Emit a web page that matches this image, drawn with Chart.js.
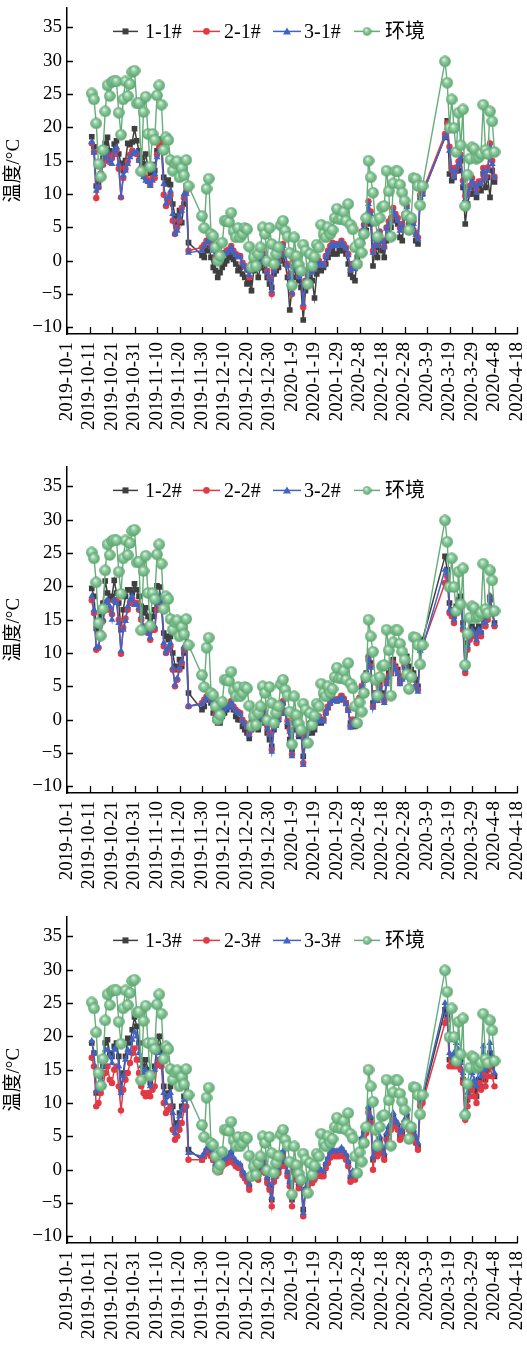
<!DOCTYPE html>
<html><head><meta charset="utf-8">
<script src="https://cdn.jsdelivr.net/npm/chart.js@4.4.1/dist/chart.umd.min.js"></script>
<style>
html,body{margin:0;padding:0;background:#fff;width:527px;height:1351px;overflow:hidden;position:relative}
canvas{position:absolute;left:0}
</style></head><body>
<canvas id="c1" width="527" height="450" style="top:0;width:527px;height:450px"></canvas>
<canvas id="c2" width="527" height="450" style="top:459px;width:527px;height:450px"></canvas>
<canvas id="c3" width="527" height="442" style="top:909px;width:527px;height:442px"></canvas>
<script>
// day offsets from 2019-10-1
const days = [11,12,13,14,15,16,17,18,19,20,
21,22,23,24,25,26,27,28,29,30,
31,32,33,34,35,36,37,38,39,40,
41,42,43,44,45,46,47,48,49,50,
51,52,53,54,55,56,57,58,59,60,
61,62,63,64,65,66,67,68,69,70,
71,72,73,74,75,76,77,78,79,80,
81,82,83,84,85,86,87,88,89,90,
91,92,93,94,95,96,97,98,99,100,
101,102,103,104,105,106,107,108,109,110,
111,112,113,114,115,116,117,118,119,120,
121,122,123,124,125,126,127,128,129,130,
131,132,133,134,135,136,137,138,139,140,
141,142,143,144,145,146,147,148,149,150,
151,152,153,154,155,156,157,158,
168,169,170,171,172,173,174,175,176,177,178,179,180,181,182,183,184,185,186,187,188,189,190];

const tickDays = [0,10,20,30,40,50,60,70,80,90,100,110,120,130,140,150,160,170,180,190,200];
const tickLabels = ['2019-10-1','2019-10-11','2019-10-21','2019-10-31','2019-11-10','2019-11-20','2019-11-30',
'2019-12-10','2019-12-20','2019-12-30','2020-1-9','2020-1-19','2020-1-29','2020-2-8','2020-2-18','2020-2-28',
'2020-3-9','2020-3-19','2020-3-29','2020-4-8','2020-4-18'];
const yTicks = [-10,-5,0,5,10,15,20,25,30,35];

const env = [25.1,24.2,20.6,14.5,12.6,16.6,22.4,26.3,24.7,26.8,
27.0,26.9,22.2,18.9,24.2,26.9,24.7,26.5,28.3,28.5,
23.6,23.7,13.4,22.3,24.6,19.0,14.1,19.0,18.1,24.8,
26.3,23.4,16.6,18.5,18.1,15.1,13.5,14.6,14.9,12.5,
13.9,12.8,15.1,11.2,null,null,null,null,null,6.7,
4.9,10.8,12.3,4.0,3.7,2.0,0.0,0.7,2.7,6.0,
6.0,5.8,7.2,4.4,3.5,4.9,3.5,4.0,4.9,4.7,
2.1,-1.0,0.5,-0.8,1.0,2.0,5.0,4.0,-0.1,4.9,
2.5,-0.5,1.0,2.0,5.3,6.0,4.5,3.6,1.2,-3.7,
3.5,0.7,-0.6,-1.5,2.4,1.5,-3.5,1.0,-0.8,0.6,
2.4,2.0,5.4,4.0,3.5,5.0,4.0,4.6,6.4,7.8,
6.2,6.3,7.3,6.0,8.5,5.4,4.7,2.0,-0.5,2.6,
1.2,4.0,6.4,15.0,12.5,10.2,6.0,3.6,6.4,8.0,
8.2,13.5,10.4,3.6,11.6,13.4,13.4,11.4,10.2,9.0,
6.8,4.6,6.4,12.4,12.3,11.2,8.3,11.2,
29.9,26.7,19.9,24.2,19.9,16.3,22.2,17.3,22.7,8.2,12.9,15.3,17.0,16.8,15.3,15.5,16.0,23.4,16.6,16.0,22.4,20.9,16.3];

// chart 1
const s11 = [18.6,17.1,11.2,11.5,13.0,15.4,17.6,18.5,16.5,15.5,
17.5,18.0,16.0,14.6,13.5,15.0,17.6,17.4,17.8,19.8,
18.0,16.5,15.5,14.5,16.0,14.0,13.1,14.4,13.5,16.5,
18.2,18.0,12.5,11.5,12.1,11.4,8.5,6.7,5.5,7.5,
5.7,8.5,11.2,2.7,null,null,null,null,null,0.8,
0.5,1.5,2.0,0.5,-1.0,-1.5,-2.5,-1.8,-1.0,-0.5,
0.0,0.5,1.0,0.2,-0.5,-1.5,-1.0,-2.0,-2.5,-3.5,
-3.3,-4.5,-1.5,-1.0,-2.5,-1.0,0.0,-1.5,-2.5,-3.5,
-4.0,-2.0,-1.5,-1.0,0.0,1.0,-0.5,-2.5,-7.4,-4.0,
-1.0,-2.5,-3.0,-4.0,-8.9,-4.5,-3.5,-2.5,-3.0,-5.6,
-2.0,-1.0,-1.5,-1.0,-0.5,0.5,1.0,1.5,1.0,1.0,
1.5,2.0,1.5,1.0,-0.5,-2.0,-2.5,-3.0,0.5,1.5,
3.0,4.0,4.5,7.0,5.5,-0.8,2.0,0.5,3.0,1.5,
0.5,3.0,4.0,5.0,6.5,6.0,5.5,3.5,3.0,6.5,
7.0,5.5,4.5,4.5,3.0,2.5,9.5,10.0,
18.5,21.0,13.0,12.0,12.5,13.5,13.5,15.0,11.0,5.5,8.5,10.0,10.0,10.5,9.5,11.0,10.5,13.0,11.0,12.5,9.5,13.5,11.8];
const s21 = [17.6,16.3,9.4,11.0,12.8,14.4,15.0,15.9,14.8,15.4,
16.0,16.6,13.8,9.5,12.4,13.8,14.9,15.9,16.5,16.1,
16.0,15.1,13.9,12.9,12.4,12.0,11.4,12.4,12.4,15.9,
17.1,17.5,9.9,8.2,8.8,9.9,6.0,4.0,5.0,6.0,
7.9,9.4,10.4,1.5,null,null,null,null,null,2.0,
2.4,3.0,3.2,2.5,2.0,0.5,0.8,0.2,1.0,1.2,
1.5,1.7,2.2,1.5,1.0,0.8,0.7,-0.3,-0.8,-1.3,
-2.5,-0.5,0.2,0.5,-1.0,0.2,1.2,0.0,-1.5,-2.5,
-5.0,-1.3,-0.5,0.0,1.0,2.5,1.0,-0.5,-2.0,-5.0,
0.0,-1.0,-2.3,-1.5,-7.0,-3.0,-2.0,-1.0,-1.5,-1.0,
-0.5,0.0,-0.5,-0.5,0.7,1.5,2.2,2.7,2.5,2.5,
2.5,3.0,2.5,2.0,1.0,-1.3,-0.5,-1.0,2.2,2.8,
4.4,5.4,6.0,8.9,7.4,1.5,3.5,2.5,4.4,3.0,
2.1,5.0,5.9,6.4,7.9,7.0,6.4,4.9,5.5,7.0,
8.2,6.5,6.0,5.9,4.2,3.5,9.9,10.4,
19.0,20.6,17.1,13.9,12.9,14.0,14.9,15.9,12.0,9.7,10.2,11.2,12.4,11.5,10.7,11.9,11.9,13.9,12.6,14.0,17.6,15.0,12.6];
const s31 = [17.8,16.2,10.5,11.0,13.0,14.5,15.5,16.5,15.0,14.5,
16.5,17.0,14.5,9.6,12.8,13.5,14.5,15.5,16.0,16.3,
16.3,15.0,13.5,12.5,12.0,11.8,11.2,12.0,13.0,15.5,
16.5,16.5,11.5,8.5,9.5,10.5,7.0,4.0,4.5,6.5,
7.5,10.0,10.0,1.2,null,null,null,null,null,1.5,
2.2,2.8,3.0,2.0,1.5,0.3,0.5,0.0,0.8,1.0,
1.2,1.5,2.0,1.2,0.8,0.5,0.5,-0.5,-1.0,-1.5,
-2.2,-1.0,0.0,0.2,-1.2,0.0,1.0,-0.3,-1.8,-2.8,
-4.5,-1.5,-0.8,-0.2,0.8,2.2,0.8,-0.8,-2.5,-4.8,
-0.3,-1.3,-2.5,-2.0,-6.5,-3.2,-2.2,-1.3,-1.8,-1.3,
-0.8,-0.3,-0.5,-0.8,0.5,1.2,2.0,2.5,2.2,2.3,
2.3,2.8,2.2,1.8,0.8,-1.5,-0.8,-1.3,2.0,2.5,
4.0,5.0,5.8,8.5,7.0,1.2,3.2,2.2,4.2,2.8,
2.0,4.8,5.5,6.0,7.5,6.8,6.0,4.5,5.2,6.8,
8.0,6.2,5.5,5.5,3.9,3.2,9.5,10.0,
18.5,20.0,16.5,13.5,12.5,13.5,14.5,15.5,11.5,9.2,9.8,10.8,12.0,11.2,10.2,11.5,11.5,13.5,12.2,13.5,17.0,14.5,12.5];

// chart 2
const s12 = [19.7,18.5,13.7,12.5,15.5,17.5,20.8,19.0,18.0,18.5,
20.9,19.0,17.5,13.5,16.5,18.5,19.5,19.5,19.0,20.4,
19.5,18.5,17.0,16.0,16.8,15.5,15.0,15.5,16.5,20.1,
19.9,17.5,13.0,12.5,12.0,12.5,10.0,8.0,7.5,9.0,
8.0,10.0,12.8,4.0,null,null,null,null,null,1.5,
2.0,3.0,3.5,2.5,1.0,0.0,-0.5,-0.5,0.5,1.0,
1.5,2.0,2.5,1.5,0.5,0.0,0.0,-1.0,-1.5,-2.0,
-2.8,-1.5,0.0,0.0,-1.5,0.0,1.0,-0.5,-2.0,-3.0,
-4.0,-1.5,-0.8,0.0,1.0,2.5,1.0,-1.0,-3.0,-4.5,
-0.5,-1.5,-2.5,-2.0,-5.5,-3.0,-2.0,-1.5,-2.0,-1.5,
-0.5,0.0,-0.5,0.0,1.0,1.8,2.5,3.0,3.0,2.8,
3.0,3.5,3.0,2.5,1.5,-0.5,0.0,-1.0,2.5,3.0,
5.0,6.0,7.0,9.0,8.5,2.5,4.0,3.5,5.5,4.0,
3.0,6.0,7.0,7.5,9.0,8.0,7.5,6.0,6.5,8.5,
9.5,8.0,7.5,7.0,6.0,5.0,11.0,12.0,
24.5,22.5,17.5,16.5,15.5,17.0,18.0,18.5,14.5,8.0,11.5,13.0,14.0,13.5,12.5,14.0,13.0,16.5,15.0,16.0,18.0,16.5,14.5];
const s22 = [17.9,16.0,10.5,10.8,13.0,14.8,16.5,17.8,16.5,15.8,
17.8,18.0,15.0,9.9,13.8,15.2,16.5,17.5,18.0,17.5,
17.5,16.5,15.0,14.0,13.5,13.0,12.0,13.5,13.5,16.5,
18.0,17.5,11.0,10.0,10.5,11.0,7.5,5.0,6.0,7.5,
8.5,10.5,11.0,2.0,null,null,null,null,null,2.5,
3.0,3.5,3.8,3.0,2.5,0.8,1.2,0.5,1.5,1.8,
2.0,2.2,2.8,2.0,1.5,1.2,1.0,0.0,-0.5,-1.0,
-2.0,-0.3,0.5,0.8,-0.8,0.5,1.5,0.3,-1.0,-2.0,
-4.5,-1.0,-0.2,0.3,1.3,2.8,1.3,-0.2,-1.5,-5.2,
0.3,-0.8,-2.0,-1.2,-6.5,-2.5,-1.5,-0.5,-1.0,-0.5,
0.0,0.5,0.0,0.0,1.2,2.0,2.8,3.2,3.0,3.0,
3.2,3.6,3.2,2.5,1.5,-1.0,0.0,-0.5,2.8,3.3,
5.0,6.0,6.8,9.5,8.0,2.0,4.0,3.0,5.0,3.5,
2.8,5.5,6.5,7.0,8.5,7.8,7.0,5.5,6.2,8.0,
9.0,7.2,6.8,6.5,5.0,4.5,10.5,11.0,
20.5,21.5,16.0,15.5,14.5,16.5,17.0,17.5,13.5,7.0,10.5,12.0,13.0,12.5,11.5,13.0,12.5,16.0,14.0,15.0,18.5,16.0,14.0];
const s32 = [18.5,16.5,10.8,11.0,13.0,15.0,17.5,18.0,17.0,15.0,
18.0,17.5,14.5,10.3,13.5,14.8,17.0,18.0,18.5,17.2,
17.2,16.8,15.5,14.0,13.8,13.0,12.3,13.8,14.0,17.5,
18.5,17.8,11.5,10.0,10.8,11.5,7.8,5.2,6.2,7.8,
8.8,11.0,11.5,2.0,null,null,null,null,null,2.3,
2.8,3.3,3.6,2.8,2.3,0.5,1.0,0.3,1.3,1.5,
1.8,2.0,2.6,1.8,1.3,1.0,0.8,-0.2,-0.7,-1.2,
-2.3,-0.5,0.3,0.6,-1.0,0.3,1.3,0.0,-1.3,-2.3,
-4.8,-1.2,-0.5,0.0,1.0,2.5,1.0,-0.5,-1.8,-5.5,
0.0,-1.0,-2.3,-1.5,-6.8,-2.8,-1.8,-0.8,-1.3,-0.8,
-0.3,0.2,-0.2,-0.3,1.0,1.8,2.5,3.0,2.8,2.8,
3.0,3.4,3.0,2.3,1.3,-1.2,-0.3,-0.8,2.5,3.0,
4.8,5.8,6.5,9.2,7.8,1.8,3.8,2.8,4.8,3.3,
2.5,5.3,6.3,6.8,8.3,7.5,6.8,5.3,6.0,7.8,
8.8,7.0,6.5,6.3,4.8,4.2,10.3,10.8,
22.5,22.0,16.5,16.0,15.0,17.0,17.5,18.0,14.0,7.5,11.0,12.5,13.5,13.0,12.0,13.5,13.0,16.5,14.5,15.5,18.5,16.5,14.3];

// chart 3
const s13 = [19.0,17.5,11.5,12.5,14.0,15.5,19.0,19.5,17.5,17.0,
18.5,19.0,17.0,12.0,14.5,17.0,19.7,19.0,21.0,22.9,
21.5,19.0,16.5,15.5,16.5,15.0,13.0,14.5,15.5,18.5,
20.0,18.0,12.5,11.0,11.5,12.5,9.5,6.5,7.0,8.5,
9.5,11.0,12.5,3.0,null,null,null,null,null,1.5,
2.0,2.8,3.2,2.5,1.5,0.5,0.5,0.0,1.0,1.2,
1.5,1.8,2.5,1.5,1.0,0.8,0.5,-0.5,-1.0,-1.5,
-2.5,-0.8,0.0,0.5,-1.0,0.2,1.2,0.0,-1.5,-2.5,
-4.5,-1.3,-0.5,0.0,1.0,2.5,1.0,-0.5,-2.0,-4.5,
0.0,-1.0,-2.3,-1.5,-6.0,-3.0,-2.0,-1.0,-1.5,-1.0,
-0.5,0.0,-0.5,-0.5,0.7,1.5,2.3,2.8,2.5,2.5,
2.5,3.0,2.5,2.0,1.0,-1.2,-0.5,-1.0,2.3,2.8,
4.5,5.5,6.0,9.0,7.5,1.5,3.5,2.5,4.5,3.0,
2.0,5.0,6.0,6.5,8.0,7.0,6.5,5.0,5.5,7.0,
8.0,6.5,6.0,5.5,4.5,3.5,10.0,10.5,
24.0,23.0,16.5,16.0,16.0,17.5,17.0,16.5,13.5,8.0,10.5,12.0,13.0,12.0,11.0,13.5,12.5,15.5,13.5,15.0,17.5,15.5,14.0];
const s23 = [16.8,15.5,9.5,10.0,11.5,12.5,14.5,15.5,13.5,13.0,
15.0,15.5,12.5,8.9,12.0,13.5,14.5,16.0,17.5,18.2,
16.5,14.5,12.5,11.5,11.0,11.5,11.0,12.0,12.5,15.7,
16.5,15.5,10.0,8.5,9.0,9.5,6.0,4.5,5.0,6.0,
7.0,9.0,9.5,1.5,null,null,null,null,null,1.5,
2.0,2.5,2.8,2.0,1.5,0.0,0.3,-0.3,0.5,0.8,
1.0,1.2,1.8,1.0,0.5,0.3,0.2,-0.8,-1.3,-1.8,
-3.0,-1.0,-0.3,0.0,-1.5,-0.3,0.8,-0.5,-2.0,-3.0,
-5.5,-1.8,-1.0,-0.5,0.5,2.0,0.5,-1.0,-2.5,-5.5,
-0.5,-1.5,-2.8,-2.0,-7.0,-3.5,-2.5,-1.5,-2.0,-1.5,
-1.0,-0.5,-1.0,-1.0,0.2,1.0,1.8,2.2,2.0,2.0,
2.0,2.5,2.0,1.5,0.5,-1.8,-1.0,-1.5,1.8,2.3,
4.0,5.0,5.5,8.5,7.0,0.0,3.0,2.0,4.0,2.5,
1.5,4.5,5.5,6.0,7.5,6.5,6.0,4.5,5.0,6.5,
7.5,6.0,5.5,5.0,4.0,3.0,9.5,10.0,
22.0,22.5,15.5,15.5,15.5,15.5,15.5,15.0,13.0,7.5,9.5,11.0,12.0,11.0,10.0,13.0,12.0,14.5,12.5,14.0,15.5,14.0,12.5];
const s33 = [19.3,17.5,11.8,12.0,13.5,15.5,18.0,18.0,17.0,16.0,
18.0,18.5,15.5,11.5,14.0,16.5,18.0,17.5,19.5,20.7,
20.0,17.5,15.5,14.5,15.0,14.5,12.5,14.0,15.0,17.5,
17.5,17.0,11.5,10.0,11.0,11.5,8.5,5.5,6.5,8.0,
9.0,10.5,11.5,2.5,null,null,null,null,null,2.0,
2.5,3.2,3.5,2.8,2.0,0.8,1.0,0.5,1.3,1.6,
1.8,2.2,2.8,1.8,1.3,1.0,0.8,-0.2,-0.7,-1.2,
-2.2,-0.5,0.3,0.8,-0.8,0.5,1.5,0.3,-1.2,-2.2,
-4.2,-1.0,-0.3,0.3,1.3,2.8,1.3,-0.3,-1.8,-4.2,
0.3,-0.8,-2.0,-1.2,-6.5,-2.8,-1.8,-0.8,-1.3,-0.8,
-0.2,0.3,-0.2,-0.2,1.0,1.8,2.6,3.0,2.8,2.8,
2.8,3.3,2.8,2.3,1.3,-1.0,-0.2,-0.8,2.6,3.0,
4.8,5.8,6.5,9.5,8.0,2.0,4.0,3.0,5.0,3.5,
2.5,5.5,6.5,7.0,8.5,7.5,7.0,5.5,6.0,7.5,
8.5,7.0,6.5,6.0,5.0,4.0,10.5,11.0,
25.0,23.5,17.5,17.0,17.5,19.0,18.0,16.0,14.5,9.0,11.5,13.0,14.5,13.5,12.5,15.0,14.0,18.5,15.0,16.5,19.0,17.0,14.5];

const names1 = ['1-1#','2-1#','3-1#','环境'];
const names2 = ['1-2#','2-2#','3-2#','环境'];
const names3 = ['1-3#','2-3#','3-3#','环境'];

const SERIF = "'Liberation Serif','Times New Roman','Noto Sans CJK SC',serif";
const COLORS = {black:'#3f3f3f', red:'#e23a44', blue:'#3f64c4', green:'#66ad7a'};

function sphere(d){
  const c = document.createElement('canvas'); c.width = d; c.height = d;
  const g = c.getContext('2d'); const r = d/2;
  const gr = g.createRadialGradient(r*0.8, r*0.65, 0.3, r, r, r);
  gr.addColorStop(0, '#e4f4e8'); gr.addColorStop(0.35, '#92cfa3'); gr.addColorStop(1, '#56a069');
  g.fillStyle = gr; g.beginPath(); g.arc(r, r, r-0.2, 0, Math.PI*2); g.fill();
  return c;
}
const ball = sphere(12);
const ballSmall = sphere(9);

function xy(vals){ return days.map((d,i)=>({x:d, y:vals[i]})); }

function drawMarker(ctx, kind, x, y){
  ctx.save();
  if(kind==='rect'){ ctx.fillStyle = COLORS.black; ctx.fillRect(x-3, y-3, 6, 6); }
  else if(kind==='circle'){ ctx.fillStyle = COLORS.red; ctx.beginPath(); ctx.arc(x, y, 3.3, 0, Math.PI*2); ctx.fill(); }
  else if(kind==='tri'){ ctx.fillStyle = COLORS.blue; ctx.beginPath(); ctx.moveTo(x, y-4); ctx.lineTo(x+4, y+3); ctx.lineTo(x-4, y+3); ctx.closePath(); ctx.fill(); }
  else { ctx.drawImage(ballSmall, x-4.5, y-4.5); }
  ctx.restore();
}

const legendPlugin = {
  id: 'lineLegend',
  afterDraw(chart){
    const ctx = chart.ctx; const y = chart.chartArea.top + 24;
    const items = [[113,138,145,COLORS.black,'rect'],[193,220,224,COLORS.red,'circle'],[273,301,304,COLORS.blue,'tri'],[354,380,385,COLORS.green,'ball']];
    chart.data.datasets.forEach((ds, i) => {
      const it = items[i];
      ctx.save();
      ctx.strokeStyle = it[3]; ctx.lineWidth = 1.5;
      ctx.beginPath(); ctx.moveTo(it[0], y); ctx.lineTo(it[1], y); ctx.stroke();
      drawMarker(ctx, it[4], (it[0]+it[1])/2, y);
      ctx.fillStyle = '#000'; ctx.font = "20px " + SERIF; ctx.textBaseline = 'middle'; ctx.textAlign = 'left';
      ctx.fillText(ds.label, it[2], y + 1);
      ctx.restore();
    });
  }
};

const tickPlugin = {
  id: 'inTicks',
  afterDraw(chart){
    const ctx = chart.ctx; const a = chart.chartArea;
    const xs = chart.scales.x, ys = chart.scales.y;
    ctx.save(); ctx.strokeStyle = '#000'; ctx.lineWidth = 1.3;
    ctx.beginPath();
    tickDays.forEach(v => { const px = Math.round(xs.getPixelForValue(v)) + 0.5; ctx.moveTo(px, a.bottom); ctx.lineTo(px, a.bottom - 7); });
    yTicks.forEach(v => { const py = Math.round(ys.getPixelForValue(v)) + 0.5; ctx.moveTo(a.left, py); ctx.lineTo(a.left + 6, py); });
    ctx.stroke(); ctx.restore();
  }
};

function makeChart(id, names, sBlack, sRed, sBlue){
  const cv = document.getElementById(id);
  const H = cv.height;
  const ds = [
    {label:names[0], data:xy(sBlack), borderColor:COLORS.black, backgroundColor:COLORS.black, pointBackgroundColor:COLORS.black,
     pointStyle:'rect', pointRadius:4.0, pointBorderWidth:0, borderWidth:1.5, order:4},
    {label:names[1], data:xy(sRed), borderColor:COLORS.red, backgroundColor:COLORS.red, pointBackgroundColor:COLORS.red,
     pointStyle:'circle', pointRadius:3.2, pointBorderWidth:0, borderWidth:1.5, order:3},
    {label:names[2], data:xy(sBlue), borderColor:COLORS.blue, backgroundColor:COLORS.blue, pointBackgroundColor:COLORS.blue,
     pointStyle:'triangle', pointRadius:4.0, pointBorderWidth:0, borderWidth:1.5, order:2},
    {label:names[3], data:xy(env), borderColor:COLORS.green, backgroundColor:COLORS.green,
     pointStyle:ball, pointRadius:6, borderWidth:1.4, order:1}
  ];
  return new Chart(cv, {
    type:'line',
    data:{datasets:ds},
    options:{
      responsive:false, animation:false, devicePixelRatio:1,
      spanGaps:true,
      layout:{padding:{top:5, right:10, left:0, bottom:0}},
      elements:{line:{tension:0}},
      plugins:{legend:{display:false}, tooltip:{enabled:false}},
      scales:{
        x:{type:'linear', min:0, max:200,
           afterBuildTicks: s => { s.ticks = tickDays.map(v => ({value:v})); },
           afterFit: s => { s.height = H - 334; s.paddingLeft = 0; s.paddingRight = 0; },
           grid:{display:true, drawOnChartArea:false, drawTicks:false},
           border:{display:true, color:'#000', width:1.5},
           ticks:{autoSkip:false, minRotation:90, maxRotation:90, padding:8, color:'#000',
                  font:{family:SERIF, size:19},
                  callback:(v, i) => tickLabels[i]}},
        y:{type:'linear', min:-11, max:38,
           afterBuildTicks: s => { s.ticks = yTicks.map(v => ({value:v})); },
           afterFit: s => { s.width = 67; s.paddingTop = 0; s.paddingBottom = 0; },
           grid:{display:true, drawOnChartArea:false, drawTicks:false},
           border:{display:true, color:'#000', width:1.5},
           title:{display:true, text:'温度/°C', color:'#000', font:{family:SERIF, size:19}, padding:{top:3, bottom:0}},
           ticks:{padding:5, color:'#000', font:{family:SERIF, size:19},
                  callback: v => String(v).replace('-', '\u2212')}}
      }
    },
    plugins:[tickPlugin, legendPlugin]
  });
}

makeChart('c1', names1, s11, s21, s31);
makeChart('c2', names2, s12, s22, s32);
makeChart('c3', names3, s13, s23, s33);
</script>
</body></html>
